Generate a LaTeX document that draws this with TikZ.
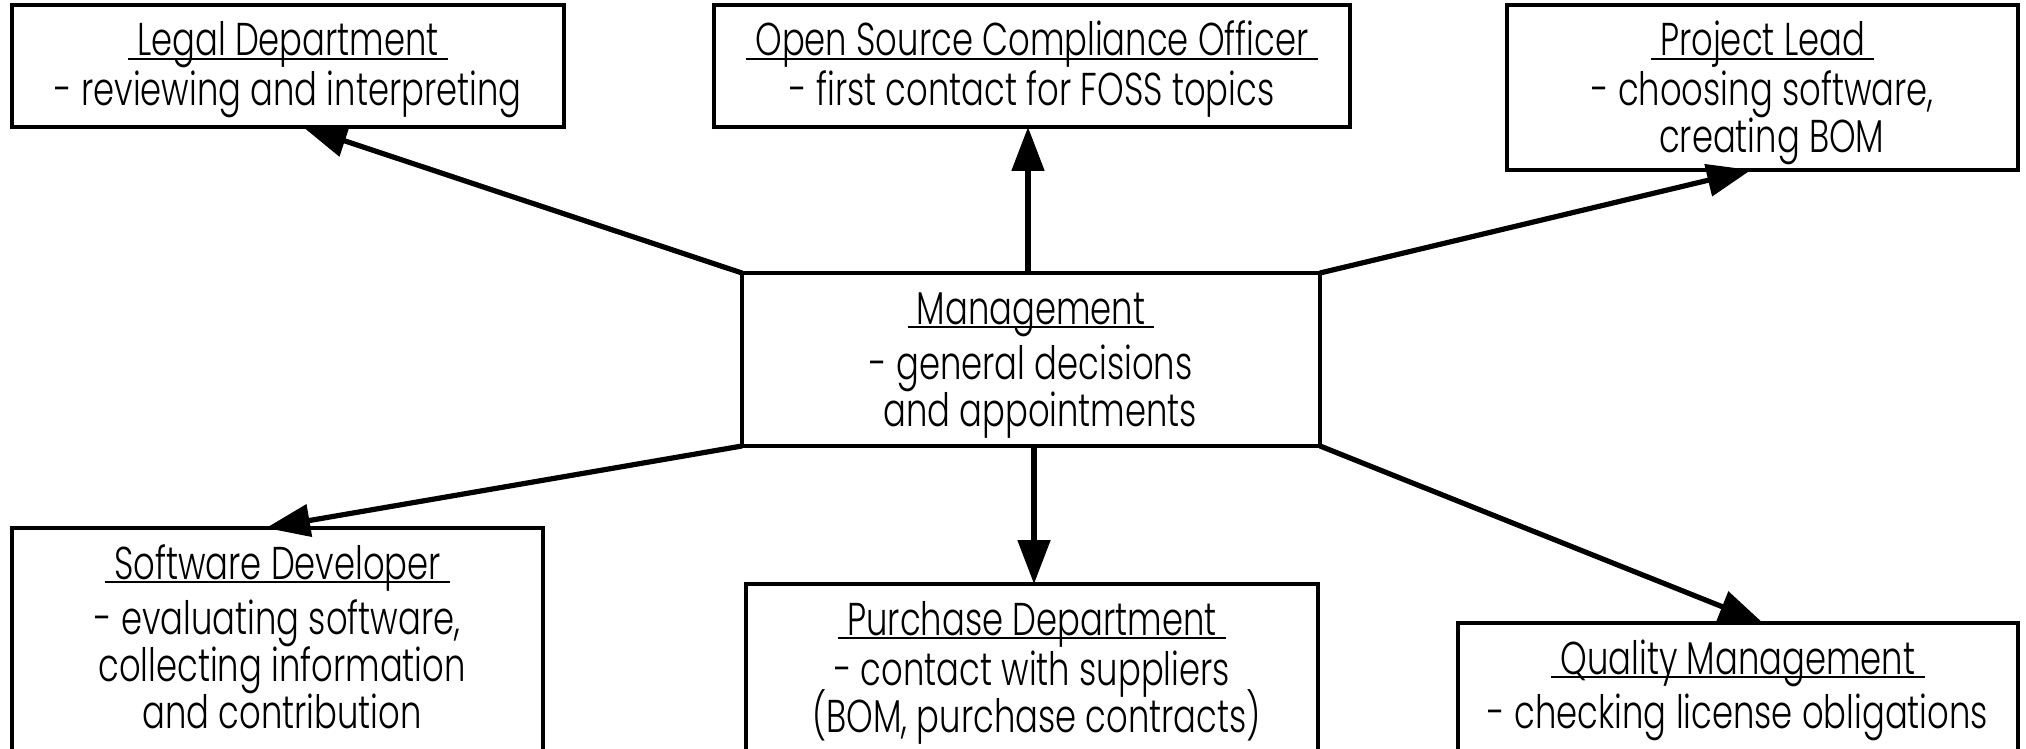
\documentclass[tikz,border=0pt]{standalone}
\usepackage{fontspec}
\setmainfont{Poppins}[UprightFont=* Light, FakeStretch=0.735]
\usetikzlibrary{arrows.meta,calc}
\newsavebox\ulbox
\newcommand\ulin[1]{\sbox\ulbox{#1}\rlap{\rule[-2pt]{\wd\ulbox}{1pt}}\usebox\ulbox}
\newcommand\bxt[3]{\parbox[c][#2][t]{#1}{\lineskiplimit=-50pt\centering\rule{0pt}{25.5pt}#3}}
\tikzset{
  box/.style={draw, line width=1.75pt, inner sep=0pt, outer sep=0pt,
    anchor=north west, font=\fontsize{23}{23.5}\selectfont},
  arr/.style={line width=2.6pt, -{Triangle[length=22pt,width=16pt]}}
}
\begin{document}
\begin{tikzpicture}[x=0.5pt,y=-0.5pt]
\useasboundingbox (0,0) rectangle (2026,749);
\fill[white] (0,0) rectangle (2026,749);
\node[box] (legal) at (12,5)
  {\bxt{276pt}{61pt}{\ulin{\ Legal Department\ }\\[1.5pt]- reviewing and interpreting}};
\node[box] (osco) at (714,5)
  {\bxt{318pt}{61pt}{\ulin{\ Open Source Compliance Officer\ }\\[1.5pt]- first contact for FOSS topics}};
\node[box] (proj) at (1507,5)
  {\bxt{255.5pt}{82.5pt}{\ulin{\ Project Lead\ }\\[1.5pt]- choosing software,\\\ \ creating BOM}};
\node[box] (mgmt) at (742,273)
  {\bxt{289pt}{86.5pt}{\ulin{\ Management\ }\\[4pt]- general decisions\\\ \ and appointments}};
\node[box] (dev) at (12,528)
  {\bxt{265.5pt}{117.5pt}{\ulin{\ Software Developer\ }\\[4pt]- evaluating software,\\\ collecting information\\\ and contribution}};
\node[box] (purch) at (746,584)
  {\bxt{286pt}{88.5pt}{\ulin{\ Purchase Department\ }\\[1.5pt]- contact with suppliers\\\ (BOM, purchase contracts)}};
\node[box] (qual) at (1458,623)
  {\bxt{280pt}{69pt}{\ulin{\ Quality Management\ }\\[3.5pt]- checking license obligations}};
\draw[arr] (mgmt.north west) -- ([xshift=145.5pt]legal.south west);
\draw[arr] ([xshift=143pt]mgmt.north west) -- ([xshift=157pt]osco.south west);
\draw[arr] (mgmt.north east) -- ([xshift=122pt]proj.south west);
\draw[arr] (mgmt.south west) -- ([xshift=127pt]dev.north west);
\draw[arr] ([xshift=146pt]mgmt.south west) -- ([xshift=144pt]purch.north west);
\draw[arr] (mgmt.south east) -- ([xshift=152.5pt]qual.north west);
\end{tikzpicture}
\end{document}
